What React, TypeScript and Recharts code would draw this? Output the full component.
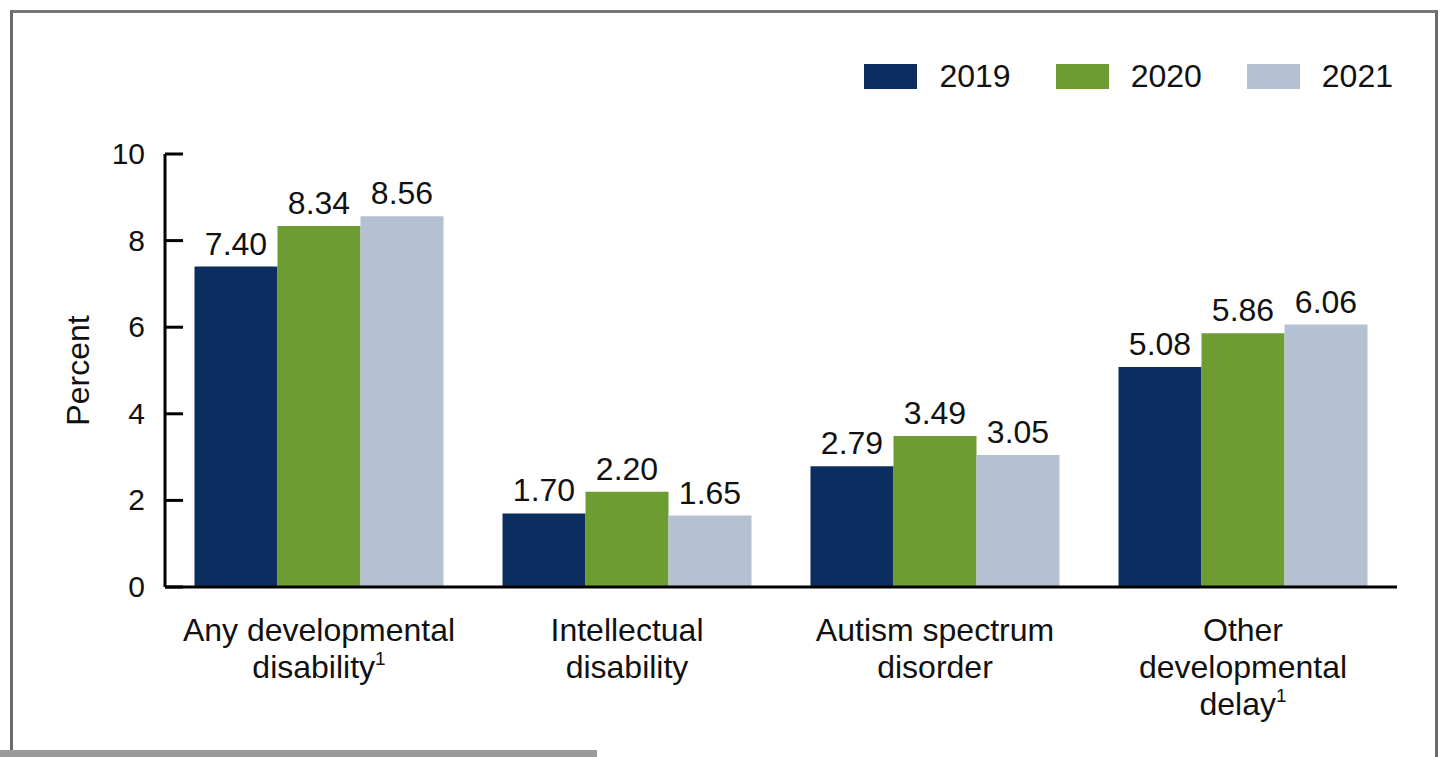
import React from 'react';
import { BarChart, Bar, XAxis, YAxis, Legend, LabelList, Label } from 'recharts';

const categories = [
  'Any developmental disability',
  'Intellectual disability',
  'Autism spectrum disorder',
  'Other developmental delay',
];
const categoryLines = [
  ['Any developmental', 'disability'],
  ['Intellectual', 'disability'],
  ['Autism spectrum', 'disorder'],
  ['Other', 'developmental', 'delay'],
];
const footnotes = ['1', '', '', '1'];

const values2019 = [7.4, 1.7, 2.79, 5.08];
const values2020 = [8.34, 2.2, 3.49, 5.86];
const values2021 = [8.56, 1.65, 3.05, 6.06];

const yTicks = [0, 2, 4, 6, 8, 10];

const series = [
  { key: 'y2019', name: '2019', color: '#0c2d5f' },
  { key: 'y2020', name: '2020', color: '#6d9d32' },
  { key: 'y2021', name: '2021', color: '#b3c1d3' },
];

const data = categories.map((name, i) => ({
  name,
  y2019: values2019[i],
  y2020: values2020[i],
  y2021: values2021[i],
}));

const FONT = '"Liberation Sans", Arial, sans-serif';
const FS = 32;

const YTick = (props: any) => {
  const { x, y, payload } = props;
  return (
    <g>
      <line x1={x + 20} x2={x + 38} y1={y} y2={y} stroke="#000" strokeWidth={3} />
      <text x={x} y={y} dy={10} textAnchor="end" fontFamily={FONT} fontSize={30} fill="#111">
        {payload.value}
      </text>
    </g>
  );
};

const XTick = (props: any) => {
  const { x, y, index } = props;
  const lines = categoryLines[index] || [];
  return (
    <text x={x} y={y} textAnchor="middle" fontFamily={FONT} fontSize={FS} fill="#111">
      {lines.map((l, i) => (
        <tspan key={i} x={x} dy={i === 0 ? 46 : 37}>
          {l}
          {i === lines.length - 1 && footnotes[index] ? (
            <tspan fontSize={19} dy={-13}>{footnotes[index]}</tspan>
          ) : null}
        </tspan>
      ))}
    </text>
  );
};

const LegendContent = () => (
  <div style={{ display: 'flex', justifyContent: 'flex-end', alignItems: 'center', fontFamily: FONT, fontSize: FS, color: '#111', height: 36 }}>
    {series.map((s, i) => (
      <div key={s.key} style={{ display: 'flex', alignItems: 'center', marginLeft: i === 0 ? 0 : 45 }}>
        <span style={{ display: 'inline-block', width: 53, height: 25, background: s.color, marginRight: 22 }} />
        <span>{s.name}</span>
      </div>
    ))}
  </div>
);

export default function App() {
  return (
    <div style={{ position: 'absolute', left: 0, top: 0, width: 1448, height: 757, background: '#fff', overflow: 'hidden' }}>
      <div
        style={{
          position: 'absolute',
          left: 10,
          top: 10,
          width: 1428,
          height: 760,
          borderTop: '3px solid #777',
          borderLeft: '3px solid #6a6a6a',
          borderRight: '3px solid #6a6a6a',
          boxSizing: 'border-box',
        }}
      />
      <div style={{ position: 'absolute', left: 0, top: 750, width: 597, height: 7, background: '#9b9b9b' }} />
      <div style={{ position: 'absolute', left: 0, top: 0 }}>
        <BarChart
          width={1448}
          height={757}
          data={data}
          margin={{ top: 118, right: 51, bottom: 70, left: 85 }}
          barCategoryGap={29.5}
          barGap={0}
        >
          <XAxis
            dataKey="name"
            height={100}
            tickLine={false}
            axisLine={{ stroke: '#000', strokeWidth: 3 }}
            tick={<XTick />}
            interval={0}
          />
          <YAxis
            width={80}
            domain={[0, 10]}
            ticks={yTicks}
            tickSize={0}
            tickMargin={20}
            tickLine={false}
            axisLine={{ stroke: '#000', strokeWidth: 3 }}
            tick={<YTick />}
          >
            <Label
              content={(p: any) => {
                const vb = p.viewBox || {};
                const cx = 78;
                const cy = (vb.y || 154) + (vb.height || 433) / 2;
                return (
                  <text
                    x={cx}
                    y={cy}
                    transform={`rotate(-90 ${cx} ${cy})`}
                    textAnchor="middle"
                    dominantBaseline="central"
                    fontFamily={FONT}
                    fontSize={FS}
                    fill="#111"
                  >
                    Percent
                  </text>
                );
              }}
            />
          </YAxis>
          <Legend
            verticalAlign="top"
            content={<LegendContent />}
            wrapperStyle={{ top: 58, left: 0, width: 1393 }}
          />
          {series.map((s) => (
            <Bar key={s.key} dataKey={s.key} name={s.name} fill={s.color} isAnimationActive={false}>
              <LabelList
                dataKey={s.key}
                position="top"
                offset={12}
                formatter={(v: any) => Number(v).toFixed(2)}
                style={{ fontFamily: FONT, fontSize: FS, fill: '#111' }}
              />
            </Bar>
          ))}
        </BarChart>
      </div>
    </div>
  );
}
